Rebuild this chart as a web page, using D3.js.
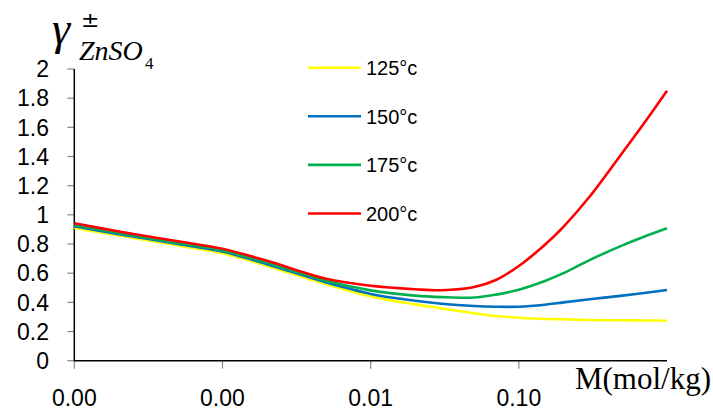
<!DOCTYPE html>
<html>
<head>
<meta charset="utf-8">
<script src="https://cdn.jsdelivr.net/npm/d3@7"></script>
<style>
  body { margin: 0; background: #fff; }
  svg { display: block; }
</style>
</head>
<body>
<div id="chart"></div>
<script>
// molality (mol/kg), log axis
const molality = [0.0001, 0.0002, 0.0005, 0.001, 0.002, 0.005, 0.01, 0.02, 0.03, 0.05, 0.07, 0.1, 0.15, 0.2, 0.3, 0.5, 0.7, 1];

const temps = ["125°c", "150°c", "175°c", "200°c"];
const colors = ["#ffff00", "#0070c0", "#00b050", "#ff0000"];

const gamma125 = [0.910, 0.858, 0.790, 0.737, 0.650, 0.525, 0.441, 0.386, 0.359, 0.325, 0.306, 0.295, 0.286, 0.284, 0.279, 0.277, 0.276, 0.274];
const gamma150 = [0.922, 0.868, 0.800, 0.748, 0.662, 0.537, 0.458, 0.411, 0.391, 0.375, 0.370, 0.370, 0.384, 0.400, 0.421, 0.446, 0.464, 0.485];
const gamma175 = [0.930, 0.876, 0.808, 0.756, 0.672, 0.548, 0.482, 0.446, 0.436, 0.433, 0.453, 0.487, 0.547, 0.600, 0.690, 0.791, 0.850, 0.908];
const gamma200 = [0.942, 0.886, 0.819, 0.768, 0.685, 0.562, 0.514, 0.490, 0.483, 0.505, 0.553, 0.649, 0.795, 0.918, 1.124, 1.426, 1.628, 1.851];

const xTicks = [0.0001, 0.001, 0.01, 0.1];
const yTicks = [0, 0.2, 0.4, 0.6, 0.8, 1, 1.2, 1.4, 1.6, 1.8, 2];

const series = [gamma125, gamma150, gamma175, gamma200];

const width = 713, height = 410;
const plotLeft = 74.3, plotRight = 667, plotTop = 69, plotBottom = 360.7;
const sans = "'Liberation Sans', Arial, sans-serif";
const serif = "'Liberation Serif', 'Times New Roman', serif";

const svg = d3.select("#chart").append("svg")
  .attr("width", width)
  .attr("height", height);

const x = d3.scaleLog().domain([0.0001, 1]).range([plotLeft, plotRight]);
const y = d3.scaleLinear().domain([0, 2]).range([plotBottom, plotTop]);

// y ticks + labels
svg.selectAll(".ytick")
  .data(yTicks)
  .enter()
  .append("line")
  .attr("x1", plotLeft - 7)
  .attr("x2", plotLeft)
  .attr("y1", d => y(d))
  .attr("y2", d => y(d))
  .attr("stroke", "#888")
  .attr("stroke-width", 1.2);

svg.selectAll(".ylab")
  .data(yTicks)
  .enter()
  .append("text")
  .attr("x", 49)
  .attr("y", d => y(d))
  .attr("dy", "0.36em")
  .attr("text-anchor", "end")
  .style("font-family", sans)
  .style("font-size", "23px")
  .attr("fill", "#000")
  .text(d => String(d));

// x ticks + labels
svg.selectAll(".xtick")
  .data(xTicks)
  .enter()
  .append("line")
  .attr("x1", d => x(d))
  .attr("x2", d => x(d))
  .attr("y1", plotBottom)
  .attr("y2", plotBottom + 8)
  .attr("stroke", "#888")
  .attr("stroke-width", 1.2);

svg.selectAll(".xlab")
  .data(xTicks)
  .enter()
  .append("text")
  .attr("x", d => x(d))
  .attr("y", 406)
  .attr("text-anchor", "middle")
  .style("font-family", sans)
  .style("font-size", "23px")
  .attr("fill", "#000")
  .text(d => d.toFixed(2));

// axis lines
svg.append("line")
  .attr("x1", plotLeft).attr("x2", plotLeft)
  .attr("y1", plotTop).attr("y2", plotBottom + 0.5)
  .attr("stroke", "#000").attr("stroke-width", 1.5);
svg.append("line")
  .attr("x1", plotLeft).attr("x2", plotRight)
  .attr("y1", plotBottom).attr("y2", plotBottom)
  .attr("stroke", "#000").attr("stroke-width", 1.5);

// curves
const line = d3.line()
  .x((d, i) => x(molality[i]))
  .y(d => y(d))
  .curve(d3.curveCatmullRom.alpha(0.5));

svg.selectAll(".curve")
  .data(series)
  .enter()
  .append("path")
  .attr("d", d => line(d))
  .attr("fill", "none")
  .attr("stroke", (d, i) => colors[i])
  .attr("stroke-width", 2.6);

// legend
const leg = svg.selectAll(".leg")
  .data(temps)
  .enter()
  .append("g")
  .attr("transform", (d, i) => `translate(308,${67.7 + i * 48.6})`);

leg.append("line")
  .attr("x1", 0).attr("x2", 53)
  .attr("stroke", (d, i) => colors[i])
  .attr("stroke-width", 2.6);

leg.append("text")
  .attr("x", 58)
  .attr("dy", "0.36em")
  .style("font-family", sans)
  .style("font-size", "20px")
  .attr("fill", "#000")
  .text(d => d);

// y title: gamma +/- ZnSO4
svg.append("text")
  .attr("x", 52).attr("y", 44)
  .style("font-family", serif)
  .style("font-style", "italic")
  .style("font-size", "46px")
  .text("γ");
svg.append("text")
  .attr("x", 81).attr("y", 27)
  .style("font-family", "'DejaVu Sans', sans-serif")
  .style("font-size", "22px")
  .text("±");
svg.append("text")
  .attr("x", 79).attr("y", 60)
  .style("font-family", serif)
  .style("font-style", "italic")
  .style("font-size", "28px")
  .text("ZnSO");
svg.append("text")
  .attr("x", 145).attr("y", 69)
  .style("font-family", serif)
  .style("font-size", "17px")
  .text("4");

// x title
svg.append("text")
  .attr("x", 711).attr("y", 389)
  .attr("text-anchor", "end")
  .style("font-family", serif)
  .style("font-size", "31px")
  .text("M(mol/kg)");
</script>
</body>
</html>
